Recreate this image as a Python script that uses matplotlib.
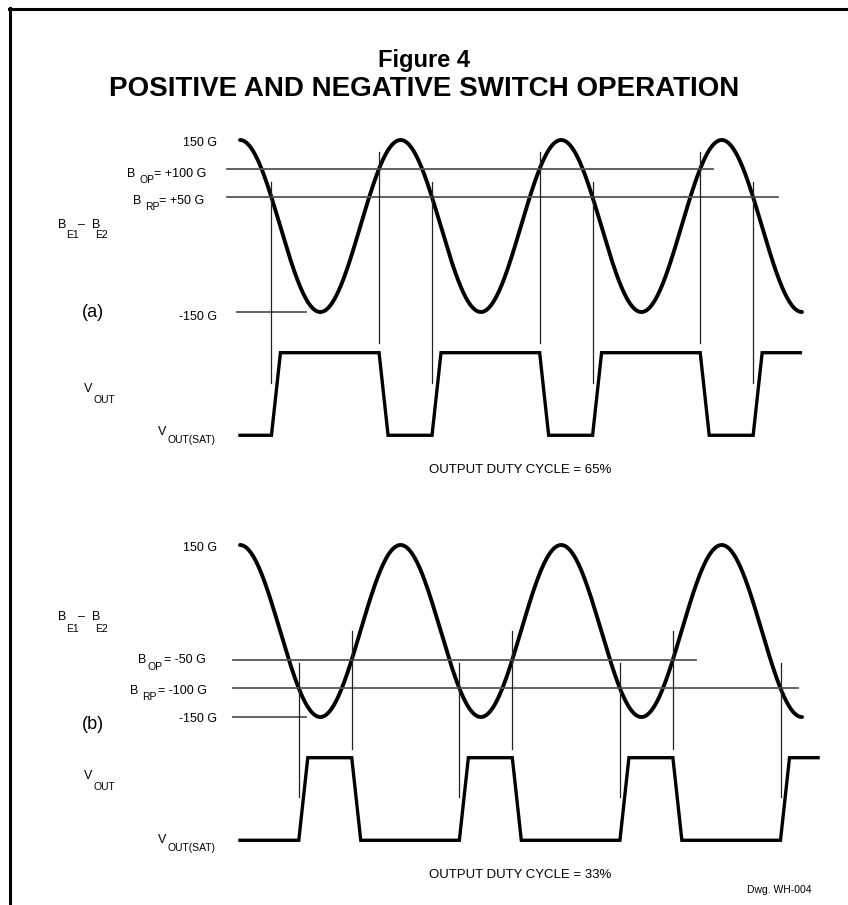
import numpy as np
import matplotlib
matplotlib.use("Agg")
import matplotlib.pyplot as plt
from matplotlib.lines import Line2D

plt.rcParams['font.family'] = ['Liberation Sans', 'DejaVu Sans']

# --- data ---
panel_tags = ['(a)', '(b)']
b_peak = [150, 150]          # gauss
b_op = [100, -50]            # operate point, gauss
b_rp = [50, -100]            # release point, gauss
duty_cycle = ['65%', '33%']
n_cycles = 3.5               # cycles of the field waveform shown

# --- layout (pixels of the 848x905 sheet) ---
W, H = 848, 905
x0 = 240.0                   # x of t = 0
P = 160.57                   # px per cycle
S = 172.0 / 300.0            # px per gauss
y_peak = [140, 545]          # y of +150 G in each panel
out_high, out_low = -221, -365   # output trace levels drawn in gauss units
ramp = 0.056                 # switching edge width, cycles
out_end = [3.49, 3.6]
op_span = [(-0.081, 2.946), (-0.044, 2.84)]
rp_span = [(-0.081, 3.35), (-0.044, 3.475)]
neg_span = [(-0.019, 0.411), (-0.044, 0.411)]
rise_mark = [(29, -204), (50, -206)]    # (offset above B_OP, bottom)
fall_mark = [(27, -274), (44, -290)]    # (offset above B_RP, bottom)

fig = plt.figure(figsize=(W / 100, H / 100), dpi=100)


def put(x, y, s, size=9, ha='left', **kw):
    fig.text(x / W, 1 - y / H, s, fontsize=size, ha=ha, va='baseline', **kw)


# sheet border (top and left edges)
fig.add_artist(Line2D([8.5 / W, 1], [1 - 9.5 / H, 1 - 9.5 / H],
                      transform=fig.transFigure, color='black', lw=2.2))
fig.add_artist(Line2D([10 / W, 10 / W], [0, 1 - 8.5 / H],
                      transform=fig.transFigure, color='black', lw=2.2))

put(424, 67, 'Figure 4', size=17, ha='center', fontweight='bold')
put(424, 96, 'POSITIVE AND NEGATIVE SWITCH OPERATION', size=20, ha='center',
    fontweight='bold')

for i in range(2):
    A = b_peak[i]
    top, bot = y_peak[i] - 40, y_peak[i] + 330
    ax = fig.add_axes([0, 1 - bot / H, 1, (bot - top) / H])
    ax.set_xlim(-x0 / P, (W - x0) / P)
    ax.set_ylim(A - 330 / S, A + 40 / S)
    ax.axis('off')

    # field waveform
    t = np.linspace(0, n_cycles, 900)
    ax.plot(t, A * np.cos(2 * np.pi * t), color='black', lw=2.8,
            solid_capstyle='round')

    # threshold lines
    ax.plot(op_span[i], [b_op[i]] * 2, color='#555555', lw=1.3)
    ax.plot(rp_span[i], [b_rp[i]] * 2, color='#555555', lw=1.3)
    ax.plot(neg_span[i], [-A] * 2, color='#555555', lw=1.3)

    # switching instants
    k = np.arange(4)
    falls = np.arccos(b_rp[i] / A) / (2 * np.pi) + k
    rises = 1 - np.arccos(b_op[i] / A) / (2 * np.pi) + k
    falls = falls[falls < n_cycles]
    rises = rises[rises < n_cycles]

    for tx in rises:
        ax.plot([tx, tx], [b_op[i] + rise_mark[i][0], rise_mark[i][1]],
                color='#222222', lw=0.9)
    for tx in falls:
        ax.plot([tx, tx], [b_rp[i] + fall_mark[i][0], fall_mark[i][1]],
                color='#222222', lw=0.9)

    # output trace: goes high below B_RP, low above B_OP
    events = sorted([(tx, out_high) for tx in falls] +
                    [(tx, out_low) for tx in rises])
    xs, ys, level = [0], [out_low], out_low
    for tx, new in events:
        if tx > out_end[i]:
            break
        xs += [tx, tx + ramp]
        ys += [level, new]
        level = new
    xs.append(out_end[i])
    ys.append(level)
    ax.plot(xs, ys, color='black', lw=2.4, solid_joinstyle='miter')

# --- labels, panel (a) ---
put(217, 146, '150 G', ha='right')
put(127, 177, 'B')
put(139, 183, 'OP', size=7.5)
put(154, 177, f'= {b_op[0]:+d} G')
put(133, 204, 'B')
put(145, 210, 'RP', size=7.5)
put(159, 204, f'= {b_rp[0]:+d} G')
put(217, 320, f'{-b_peak[0]} G', ha='right')
put(58, 228, 'B')
put(66, 238, 'E1', size=7.5)
put(78, 228, '–')
put(92, 228, 'B')
put(95, 238, 'E2', size=7.5)
put(82, 317, panel_tags[0], size=13)
put(84, 392, 'V')
put(93, 403, 'OUT', size=7.5)
put(158, 435, 'V')
put(167, 443, 'OUT(SAT)', size=7.5)
put(520, 473, f'OUTPUT DUTY CYCLE = {duty_cycle[0]}', size=9.5, ha='center')

# --- labels, panel (b) ---
put(217, 551, '150 G', ha='right')
put(138, 663, 'B')
put(148, 670, 'OP', size=7.5)
put(164, 663, f'= {b_op[1]:d} G')
put(130, 694, 'B')
put(142, 700, 'RP', size=7.5)
put(158, 694, f'= {b_rp[1]:d} G')
put(217, 722, f'{-b_peak[1]} G', ha='right')
put(58, 620, 'B')
put(66, 632, 'E1', size=7.5)
put(78, 620, '–')
put(92, 620, 'B')
put(95, 632, 'E2', size=7.5)
put(82, 729, panel_tags[1], size=13)
put(84, 779, 'V')
put(93, 790, 'OUT', size=7.5)
put(158, 843, 'V')
put(167, 851, 'OUT(SAT)', size=7.5)
put(520, 878, f'OUTPUT DUTY CYCLE = {duty_cycle[1]}', size=9.5, ha='center')
put(747, 893, 'Dwg. WH-004', size=7.5)

fig.savefig('out.png', dpi=100)
